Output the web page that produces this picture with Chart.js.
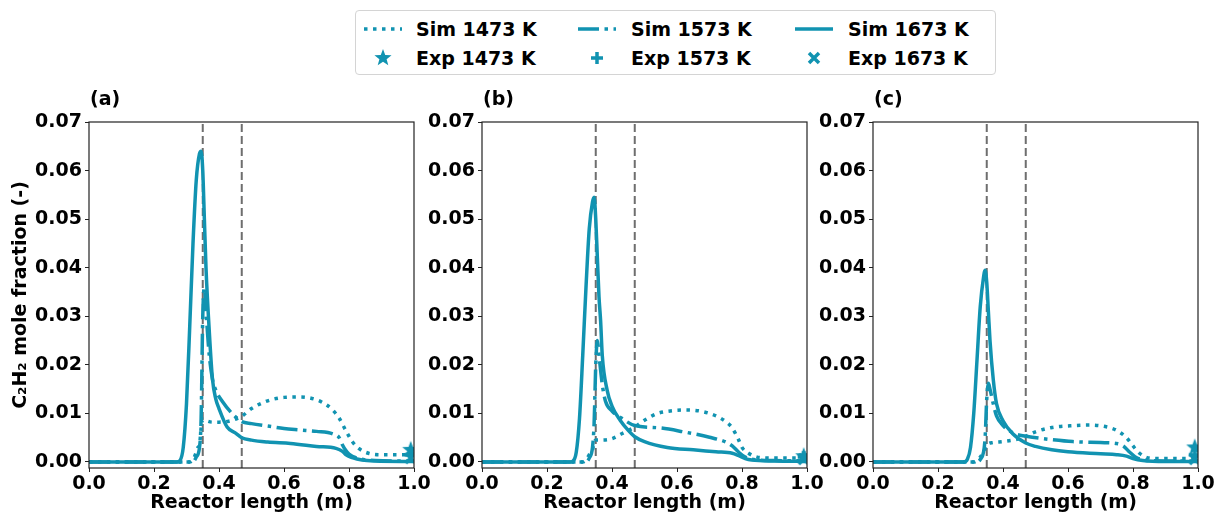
<!DOCTYPE html>
<html>
<head>
<meta charset="utf-8">
<script src="https://cdn.jsdelivr.net/npm/chart.js@4.4.1/dist/chart.umd.min.js"></script>
<style>
  html, body { margin: 0; padding: 0; background: #fff; overflow: hidden; }
  body { width: 1215px; height: 514px; position: relative; font-family: 'DejaVu Sans', sans-serif; font-weight: bold; }
  .panel { position: absolute; top: 85px; }
  #legend { position: absolute; left: 355px; top: 10px; width: 641px; height: 65px; border: 1px solid #d4d4d4; border-radius: 4px; box-sizing: border-box; }
  .lg-text { position: absolute; font-size: 19px; line-height: 22px; white-space: nowrap; color: #000; }
  .lg-handle { position: absolute; }
</style>
</head>
<body>
<div id="legend"></div>
<canvas id="panelA" class="panel" width="432" height="429" style="left:0px"></canvas>
<canvas id="panelB" class="panel" width="432" height="429" style="left:393px"></canvas>
<canvas id="panelC" class="panel" width="432" height="429" style="left:784px"></canvas>
<script>
// ---- data ----
const temps = ['1473 K', '1573 K', '1673 K'];
const xTickValues = [0.0, 0.2, 0.4, 0.6, 0.8, 1.0];
const yTickValues = [0.00, 0.01, 0.02, 0.03, 0.04, 0.05, 0.06, 0.07];
const zoneEdges = [0.35, 0.47];
const expX = 0.99;

// panel (a)
const simA1473 = [[0,0],[0.31,0],[0.32,0.0005],[0.33,0.002],[0.335,0.003],[0.34,0.0035],[0.345,0.007],[0.35,0.0088],[0.36,0.0085],[0.38,0.0082],[0.40,0.0082],[0.43,0.0084],[0.45,0.0088],[0.47,0.0094],[0.50,0.0110],[0.55,0.0126],[0.60,0.0133],[0.65,0.0134],[0.70,0.0128],[0.73,0.0118],[0.75,0.0107],[0.77,0.0090],[0.79,0.0065],[0.81,0.0042],[0.83,0.0028],[0.86,0.0018],[0.90,0.0015],[1.0,0.0015]];
const simA1573 = [[0,0],[0.32,0],[0.33,0.001],[0.34,0.003],[0.345,0.009],[0.35,0.030],[0.355,0.036],[0.36,0.031],[0.37,0.022],[0.38,0.017],[0.39,0.0148],[0.41,0.0125],[0.44,0.0100],[0.47,0.0083],[0.50,0.0079],[0.55,0.0074],[0.60,0.0069],[0.65,0.0066],[0.70,0.0063],[0.75,0.0058],[0.77,0.0050],[0.78,0.0035],[0.79,0.0024],[0.80,0.0016],[0.83,0.0007],[0.88,0.0003],[1.0,0.0002]];
const simA1673 = [[0,0],[0.27,0],[0.28,0.0003],[0.29,0.003],[0.30,0.012],[0.31,0.028],[0.32,0.045],[0.33,0.058],[0.34,0.0635],[0.345,0.064],[0.35,0.060],[0.355,0.050],[0.36,0.040],[0.37,0.027],[0.38,0.017],[0.39,0.013],[0.40,0.011],[0.425,0.0072],[0.45,0.0060],[0.47,0.0050],[0.50,0.0045],[0.55,0.0041],[0.62,0.0038],[0.70,0.0032],[0.76,0.0028],[0.78,0.0022],[0.79,0.0015],[0.81,0.0009],[0.84,0.0004],[0.88,0.0002],[1.0,0.0001]];
const expA = [0.0025, 0.0015, 0.0008];

// panel (b)
const simB1473 = [[0,0],[0.31,0],[0.32,0.0004],[0.33,0.0015],[0.34,0.0025],[0.345,0.004],[0.35,0.0045],[0.37,0.0045],[0.40,0.0048],[0.43,0.0058],[0.47,0.0072],[0.50,0.0086],[0.54,0.0100],[0.58,0.0105],[0.625,0.0107],[0.67,0.0105],[0.72,0.0095],[0.75,0.0083],[0.77,0.0070],[0.79,0.0045],[0.80,0.0030],[0.82,0.0018],[0.855,0.0009],[0.90,0.0008],[1.0,0.0008]];
const simB1573 = [[0,0],[0.32,0],[0.33,0.0008],[0.34,0.003],[0.345,0.008],[0.35,0.020],[0.355,0.025],[0.36,0.022],[0.37,0.016],[0.38,0.0125],[0.40,0.0105],[0.43,0.0090],[0.47,0.0075],[0.55,0.0070],[0.62,0.0062],[0.70,0.0051],[0.75,0.0041],[0.77,0.0033],[0.79,0.0020],[0.81,0.0010],[0.85,0.0004],[0.90,0.0003],[1.0,0.0002]];
const simB1673 = [[0,0],[0.27,0],[0.28,0.0002],[0.29,0.002],[0.30,0.009],[0.31,0.022],[0.32,0.036],[0.33,0.048],[0.34,0.0535],[0.345,0.0545],[0.35,0.050],[0.355,0.042],[0.36,0.034],[0.365,0.029],[0.37,0.022],[0.385,0.0148],[0.40,0.0115],[0.425,0.0086],[0.45,0.0065],[0.47,0.0052],[0.50,0.0042],[0.57,0.0030],[0.65,0.0025],[0.72,0.0021],[0.77,0.0018],[0.79,0.0013],[0.81,0.0007],[0.83,0.0004],[0.90,0.0002],[1.0,0.0001]];
const expB = [0.0012, 0.0010, 0.0006];

// panel (c)
const simC1473 = [[0,0],[0.31,0],[0.32,0.0003],[0.33,0.001],[0.34,0.002],[0.35,0.0035],[0.37,0.0040],[0.40,0.0042],[0.45,0.0048],[0.47,0.0053],[0.50,0.0062],[0.55,0.0071],[0.62,0.0075],[0.67,0.0076],[0.72,0.0072],[0.75,0.0065],[0.78,0.0050],[0.80,0.0033],[0.82,0.0018],[0.85,0.0008],[0.90,0.0007],[1.0,0.0007]];
const simC1573 = [[0,0],[0.32,0],[0.33,0.0005],[0.34,0.002],[0.345,0.005],[0.35,0.013],[0.355,0.0162],[0.36,0.015],[0.37,0.012],[0.38,0.0095],[0.40,0.0075],[0.43,0.0060],[0.47,0.0053],[0.49,0.0051],[0.55,0.0046],[0.615,0.0042],[0.70,0.0040],[0.75,0.0038],[0.77,0.0033],[0.79,0.0020],[0.81,0.0009],[0.85,0.0003],[1.0,0.0002]];
const simC1673 = [[0,0],[0.28,0],[0.29,0.0005],[0.30,0.003],[0.31,0.010],[0.32,0.021],[0.33,0.032],[0.34,0.038],[0.345,0.0395],[0.35,0.037],[0.355,0.031],[0.36,0.025],[0.37,0.017],[0.38,0.012],[0.40,0.0085],[0.43,0.0058],[0.47,0.0039],[0.50,0.0032],[0.55,0.0025],[0.60,0.0021],[0.70,0.0017],[0.75,0.0015],[0.78,0.0012],[0.80,0.0007],[0.83,0.0003],[0.90,0.0001],[1.0,0.0001]];
const expC = [0.0030, 0.0015, 0.0006];

// ---- styles ----
const TEAL = '#1193b1';
const GRAY = '#6e6e6e';
const FONT = { family: "'DejaVu Sans', sans-serif", size: 19, weight: 'bold' };
const yMin = -0.00124, yMax = 0.07;
const dashStyles = [[3.5, 5.5], [21, 5.5, 3.5, 5.5], []];
const LINE_W = 3.5;

function makeMarker(kind) {
  const c = document.createElement('canvas');
  c.width = 20; c.height = 20;
  const g = c.getContext('2d');
  g.translate(10, 10);
  g.fillStyle = TEAL; g.strokeStyle = TEAL;
  if (kind === 'star') {
    g.beginPath();
    for (let i = 0; i < 10; i++) {
      const r = i % 2 === 0 ? 9 : 3.8;
      const a = -Math.PI / 2 + i * Math.PI / 5;
      g.lineTo(r * Math.cos(a), r * Math.sin(a));
    }
    g.closePath(); g.fill();
  } else if (kind === 'plus') {
    g.lineWidth = 3.5;
    g.beginPath(); g.moveTo(-6, 0); g.lineTo(6, 0); g.moveTo(0, -6); g.lineTo(0, 6); g.stroke();
  } else {
    g.lineWidth = 3.5;
    g.beginPath(); g.moveTo(-5, -5); g.lineTo(5, 5); g.moveTo(5, -5); g.lineTo(-5, 5); g.stroke();
  }
  return c;
}
const markerKinds = ['star', 'plus', 'cross'];

const framePlugin = {
  id: 'frame',
  afterDraw(chart, args, opts) {
    const { ctx, chartArea: a } = chart;
    ctx.save();
    ctx.strokeStyle = '#222';
    ctx.lineWidth = 1.2;
    ctx.strokeRect(a.left, a.top, a.right - a.left, a.bottom - a.top);
    ctx.font = "bold 19px 'DejaVu Sans'";
    ctx.fillStyle = '#000';
    ctx.textBaseline = 'middle';
    ctx.fillText(opts.label, a.left + 1, a.top - 22);
    ctx.restore();
  }
};

function toPts(arr) { return arr.map(p => ({ x: p[0], y: p[1] })); }

function makePanel(id, label, sims, exps, showYTitle) {
  const datasets = [];
  exps.forEach((y, i) => datasets.push({
    label: 'Exp ' + temps[i], data: [{ x: expX, y: y }], showLine: false,
    pointStyle: makeMarker(markerKinds[i]), pointRadius: 8, clip: 0
  }));
  sims.forEach((s, i) => datasets.push({
    label: 'Sim ' + temps[i], data: toPts(s), showLine: true, pointRadius: 0,
    borderColor: TEAL, borderWidth: LINE_W, borderDash: dashStyles[i], borderCapStyle: 'butt',
    cubicInterpolationMode: 'monotone', fill: false
  }));
  zoneEdges.forEach(x => datasets.push({
    data: [{ x: x, y: yMin }, { x: x, y: yMax }], showLine: true, pointRadius: 0,
    borderColor: GRAY, borderWidth: 2, borderDash: [8, 4]
  }));

  new Chart(document.getElementById(id), {
    type: 'scatter',
    data: { datasets: datasets },
    options: {
      responsive: false,
      animation: false,
      layout: { padding: { top: 37, right: 18, left: 0, bottom: 0 } },
      plugins: { legend: { display: false }, tooltip: { enabled: false }, frame: { label: label } },
      scales: {
        x: {
          type: 'linear', min: 0, max: 1,
          afterBuildTicks: s => { s.ticks = xTickValues.map(v => ({ value: v })); },
          afterFit: s => { s.height = 46; },
          ticks: { callback: v => v.toFixed(1), font: FONT, color: '#000', padding: 1, maxRotation: 0, autoSkip: false },
          grid: { display: true, drawOnChartArea: false, drawTicks: true, tickLength: 4, color: '#222' },
          border: { display: false },
          title: { display: true, text: 'Reactor length (m)', font: FONT, color: '#000', padding: { top: 0, bottom: 0 } }
        },
        y: {
          type: 'linear', min: yMin, max: yMax,
          afterBuildTicks: s => { s.ticks = yTickValues.map(v => ({ value: v })); },
          afterFit: s => { s.width = 89; },
          ticks: { callback: v => v.toFixed(2), font: FONT, color: '#000', padding: 3, autoSkip: false },
          grid: { display: true, drawOnChartArea: false, drawTicks: true, tickLength: 4, color: '#222' },
          border: { display: false },
          title: { display: showYTitle, text: 'C\u2082H\u2082 mole fraction (-)', font: FONT, color: '#000', padding: { top: 10, bottom: 0 } }
        }
      }
    },
    plugins: [framePlugin]
  });
}

makePanel('panelA', '(a)', [simA1473, simA1573, simA1673], expA, true);
makePanel('panelB', '(b)', [simB1473, simB1573, simB1673], expB, false);
makePanel('panelC', '(c)', [simC1473, simC1573, simC1673], expC, false);

// ---- legend ----
const legend = document.getElementById('legend');
const colText = [60, 275, 492];
const colHandle = [8, 222, 439];
const rowY = [18, 47];
temps.forEach((t, i) => {
  const svg = document.createElementNS('http://www.w3.org/2000/svg', 'svg');
  svg.setAttribute('width', 40); svg.setAttribute('height', 10);
  svg.setAttribute('class', 'lg-handle');
  svg.style.left = colHandle[i] + 'px'; svg.style.top = (rowY[0] - 5) + 'px';
  const ln = document.createElementNS('http://www.w3.org/2000/svg', 'line');
  ln.setAttribute('x1', 0); ln.setAttribute('x2', 38); ln.setAttribute('y1', 5); ln.setAttribute('y2', 5);
  ln.setAttribute('stroke', TEAL); ln.setAttribute('stroke-width', LINE_W);
  if (dashStyles[i].length) ln.setAttribute('stroke-dasharray', dashStyles[i].join(' '));
  svg.appendChild(ln);
  legend.appendChild(svg);

  const m = makeMarker(markerKinds[i]);
  m.className = 'lg-handle';
  m.style.left = (colHandle[i] + 19 - 10) + 'px'; m.style.top = (rowY[1] - 10) + 'px';
  legend.appendChild(m);

  ['Sim ', 'Exp '].forEach((p, r) => {
    const d = document.createElement('div');
    d.className = 'lg-text';
    d.textContent = p + t;
    d.style.left = colText[i] + 'px';
    d.style.top = (rowY[r] - 11) + 'px';
    legend.appendChild(d);
  });
});
</script>
</body>
</html>
